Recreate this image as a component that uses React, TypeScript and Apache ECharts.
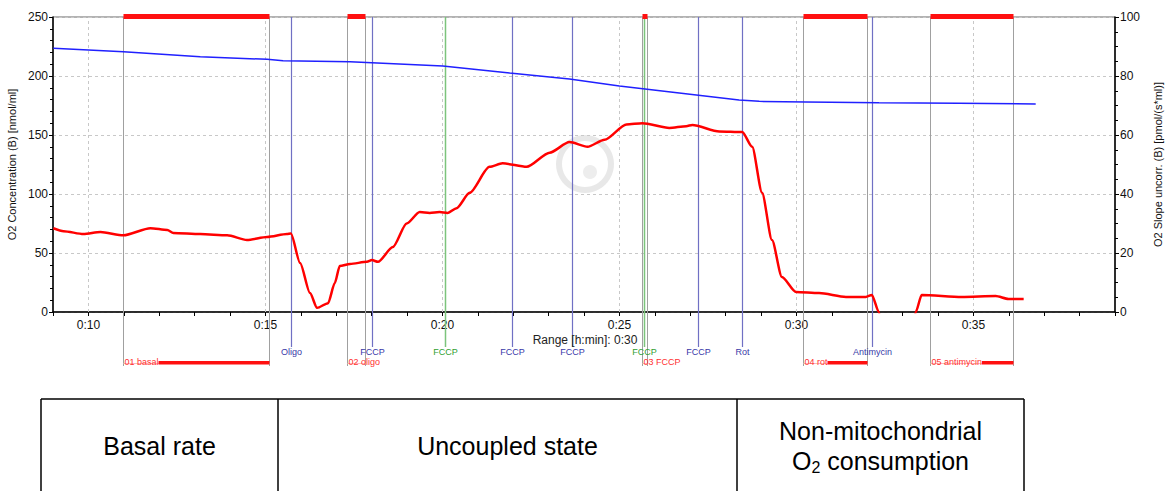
import React, { useEffect, useRef } from "react";
import * as echarts from "echarts";

// ---- data (time in minutes) ----
const xMajorMinutes = [10, 15, 20, 25, 30, 35];

const blueTime = [9.01, 10.99, 13.16, 15.05, 15.5, 17.39, 20.01, 21.9, 23.59, 25.0, 26.69, 28.38, 28.95, 30.27, 32.33, 34.58, 36.76];
const blueConc = [223.5, 220.6, 216.4, 214.1, 213, 212, 208.5, 202.5, 197.5, 191.5, 185.6, 179.7, 178.5, 178, 177.4, 177, 176.3];

const redTime = [
  9.01, 9.3, 9.86, 10.34, 10.99, 11.75, 12.23, 12.4, 13.16, 13.92, 14.48, 15.05, 15.61, 15.72,
  15.98, 16.26, 16.46, 16.77, 16.96, 17.1, 17.39, 17.87, 18.01, 18.18, 18.6, 18.99, 19.36, 19.64,
  19.92, 20.15, 20.4, 20.77, 21.33, 21.7, 22.38, 23.03, 23.59, 24.1, 24.58, 25.2, 25.65, 26.41,
  26.89, 27.06, 27.82, 28.47, 28.75, 29.03, 29.31, 29.59, 29.99, 30.64, 31.4, 31.96, 32.13, 32.33,
  32.41, 33.29, 33.37, 33.54, 34.67, 35.63, 35.99, 36.42,
];
const redSlope = [
  28.4, 27.4, 26.4, 27.1, 26.0, 28.4, 27.8, 26.8, 26.4, 26.0, 24.4, 25.4, 26.4, 26.6,
  16.6, 6.4, 1.4, 3.0, 9.8, 15.6, 16.3, 17.0, 17.6, 17.0, 22.0, 30.0, 33.9, 33.6,
  33.9, 33.6, 35.2, 40.4, 49.2, 50.4, 49.2, 54.0, 57.6, 56.0, 58.4, 63.6, 64.0, 62.4,
  63.0, 63.4, 61.2, 61.0, 56.0, 40.4, 24.4, 11.9, 6.8, 6.4, 5.1, 5.1, 5.8, 0,
  -6, -6, 0, 5.8, 5.1, 5.4, 4.4, 4.4,
];

const eventTimes = [15.72, 18.01, 20.06, 21.98, 23.65, 25.7, 27.23, 28.47, 32.13];
const eventNames = ["Oligo", "FCCP", "FCCP", "FCCP", "FCCP", "FCCP", "FCCP", "Rot", "Antimycin"];
const eventKinds = ["blue", "blue", "green", "blue", "blue", "green", "blue", "blue", "blue"];

const markStarts = [10.99, 17.3, 25.64, 30.19, 33.77];
const markEnds = [15.1, 17.81, 25.79, 31.99, 36.13];
const markNames = ["01 basal", "02 oligo", "03 FCCP", "04 rot", "05 antimycin"];

const tableTexts = ["Basal rate", "Uncoupled state", "Non-mitochondrial\nO{sub|2} consumption"];

const FONT = "'Liberation Sans', Arial, sans-serif";

function measure(text: string, size: number): number {
  const c = document.createElement("canvas");
  const ctx = c.getContext("2d");
  if (!ctx) return text.length * size * 0.5;
  ctx.font = `${size}px ${FONT}`;
  return ctx.measureText(text).width;
}

export default function App() {
  const ref = useRef<HTMLDivElement>(null);

  useEffect(() => {
    if (!ref.current) return;
    const chart = echarts.init(ref.current, null, { renderer: "svg" });
    const option: any = {
      animation: false,
      backgroundColor: "#fff",
      textStyle: { fontFamily: FONT },
      grid: {
        left: 53, right: 50, top: 17, height: 295, containLabel: false, outerBoundsMode: "none",
        show: true, borderColor: "#666", borderWidth: 1, backgroundColor: "#fff",
      },
      xAxis: {
        type: "value",
        min: 9,
        max: 39,
        interval: 1,
        axisLine: { show: true, lineStyle: { color: "#000", width: 1.5 } },
        axisTick: { show: true, length: 4, lineStyle: { color: "#000" } },
        axisLabel: {
          color: "#111",
          fontSize: 12,
          margin: 7,
          formatter: (v: number) => {
            const r = Math.round(v);
            return Math.abs(v - r) < 1e-6 && r % 5 === 0 ? `0:${r}` : "";
          },
        },
        splitLine: { show: false },
      },
      yAxis: [
        {
          type: "value",
          min: 0,
          max: 250,
          interval: 50,
          name: "O2 Concentration (B) [nmol/ml]",
          nameLocation: "middle",
          nameRotate: 90,
          nameGap: 35,
          nameTextStyle: { fontSize: 11, color: "#111" },
          axisLine: { show: true, lineStyle: { color: "#000", width: 1.5 } },
          axisTick: { show: true, length: 4, lineStyle: { color: "#000" } },
          minorTick: { show: true, splitNumber: 5, length: 3, lineStyle: { color: "#000" } },
          axisLabel: { color: "#111", fontSize: 12, margin: 5 },
          splitLine: { show: true, lineStyle: { color: "#c8c8c8", type: [3, 3], width: 1 } },
        },
        {
          type: "value",
          min: 0,
          max: 100,
          interval: 20,
          position: "right",
          name: "O2 Slope uncorr. (B) [pmol/(s*ml)]",
          nameLocation: "middle",
          nameRotate: 90,
          nameGap: 37,
          nameTextStyle: { fontSize: 11, color: "#111" },
          axisLine: { show: true, lineStyle: { color: "#000", width: 1.5 } },
          axisTick: { show: true, length: 4, lineStyle: { color: "#000" } },
          minorTick: { show: true, splitNumber: 4, length: 3, lineStyle: { color: "#000" } },
          axisLabel: { color: "#111", fontSize: 12, margin: 5 },
          splitLine: { show: false },
        },
      ],
      series: [
        {
          type: "line",
          name: "O2 Concentration",
          yAxisIndex: 0,
          data: blueTime.map((t, i) => [t, blueConc[i]]),
          showSymbol: false,
          lineStyle: { color: "#2020ff", width: 1.5 },
          z: 3,
          markLine: {
            silent: true,
            symbol: ["none", "none"],
            label: { show: false },
            lineStyle: { color: "#c8c8c8", type: [3, 3], width: 1 },
            data: xMajorMinutes.map((v) => ({ xAxis: v })),
            z: 1,
          },
        },
        {
          type: "line",
          name: "O2 Slope",
          yAxisIndex: 1,
          data: redTime.map((t, i) => [t, redSlope[i]]),
          showSymbol: false,
          smooth: 0.25,
          smoothMonotone: "x",
          lineStyle: { color: "#ff0000", width: 2.5 },
          z: 4,
        },
      ],
    };
    chart.setOption(option);

    const px = (t: number) => Math.round(chart.convertToPixel({ xAxisIndex: 0 }, t) as number) + 0.5;
    const yTop = Math.round(chart.convertToPixel({ yAxisIndex: 0 }, 250) as number);

    const els: any[] = [];
    // grey mark boundary lines
    markStarts.forEach((s, i) => {
      [s, markEnds[i]].forEach((t) => {
        const x = px(t);
        els.push({ type: "line", silent: true, z: 1, shape: { x1: x, y1: yTop, x2: x, y2: 366 }, style: { stroke: "#a0a0a0", lineWidth: 1 } });
      });
    });
    // event lines + labels
    eventTimes.forEach((t, i) => {
      const x = px(t);
      const green = eventKinds[i] === "green";
      els.push({
        type: "line", silent: true, z: green ? 2 : 1,
        shape: { x1: x, y1: yTop, x2: x, y2: 347 },
        style: { stroke: green ? "#7cc47c" : "#7070c4", lineWidth: green ? 1.5 : 1.2 },
      });
      els.push({
        type: "text", silent: true, z: 5, x: x, y: 352,
        style: { text: eventNames[i], fill: green ? "#30a030" : "#3838a8", fontSize: 9, fontFamily: FONT, align: "center", verticalAlign: "middle" },
      });
    });
    // marks: top bars, bottom labels, bottom bars
    markStarts.forEach((s, i) => {
      const x1 = px(s);
      const x2 = px(markEnds[i]);
      els.push({ type: "rect", silent: true, z: 20, shape: { x: x1, y: yTop - 3, width: x2 - x1, height: 5 }, style: { fill: "#ff1010" } });
      els.push({ type: "line", silent: true, z: 3, shape: { x1: x1, y1: 363.5, x2: x2, y2: 363.5 }, style: { stroke: "#ffb8b8", lineWidth: 1 } });
      const w = measure(markNames[i], 9);
      if (x1 + w + 2 < x2) {
        els.push({ type: "rect", silent: true, z: 4, shape: { x: x1 + w + 1, y: 361, width: x2 - x1 - w - 1, height: 3.5 }, style: { fill: "#ff1010" } });
      }
      els.push({
        type: "text", silent: true, z: 5, x: x1 + 1, y: 362,
        style: { text: markNames[i], fill: "#ff3030", fontSize: 9, fontFamily: FONT, align: "left", verticalAlign: "middle" },
      });
    });
    // range text
    els.push({
      type: "text", silent: true, z: 5, x: 585, y: 340,
      style: { text: "Range [h:min]: 0:30", fill: "#222", fontSize: 12, fontFamily: FONT, align: "center", verticalAlign: "middle" },
    });
    // watermark
    els.push({ type: "ring", silent: true, z: 0, shape: { cx: 585, cy: 164, r: 29, r0: 23 }, style: { fill: "rgba(205,205,205,0.45)" } });
    els.push({ type: "circle", silent: true, z: 0, shape: { cx: 590, cy: 172, r: 7 }, style: { fill: "rgba(210,210,210,0.4)" } });
    // table
    const cols = [41, 278, 737, 1024];
    els.push({ type: "line", silent: true, shape: { x1: 41, y1: 399, x2: 1024, y2: 399 }, style: { stroke: "#000", lineWidth: 1.5 } });
    cols.forEach((c) => {
      els.push({ type: "line", silent: true, shape: { x1: c, y1: 399, x2: c, y2: 495 }, style: { stroke: "#000", lineWidth: 1.5 } });
    });
    tableTexts.forEach((t, i) => {
      const cx = (cols[i] + cols[i + 1]) / 2;
      els.push({
        type: "text", silent: true, x: cx, y: 446,
        style: {
          text: t, fill: "#000", fontSize: 25, fontFamily: FONT, align: "center", verticalAlign: "middle", lineHeight: 30,
          rich: { sub: { fontSize: 16, fontFamily: FONT, fill: "#000", padding: [12, 0, 0, 0], lineHeight: 30 } },
        },
      });
    });
    chart.setOption({ graphic: { elements: els } });

    return () => chart.dispose();
  }, []);

  return <div ref={ref} style={{ position: "absolute", left: 0, top: 0, width: 1165, height: 491 }} />;
}
